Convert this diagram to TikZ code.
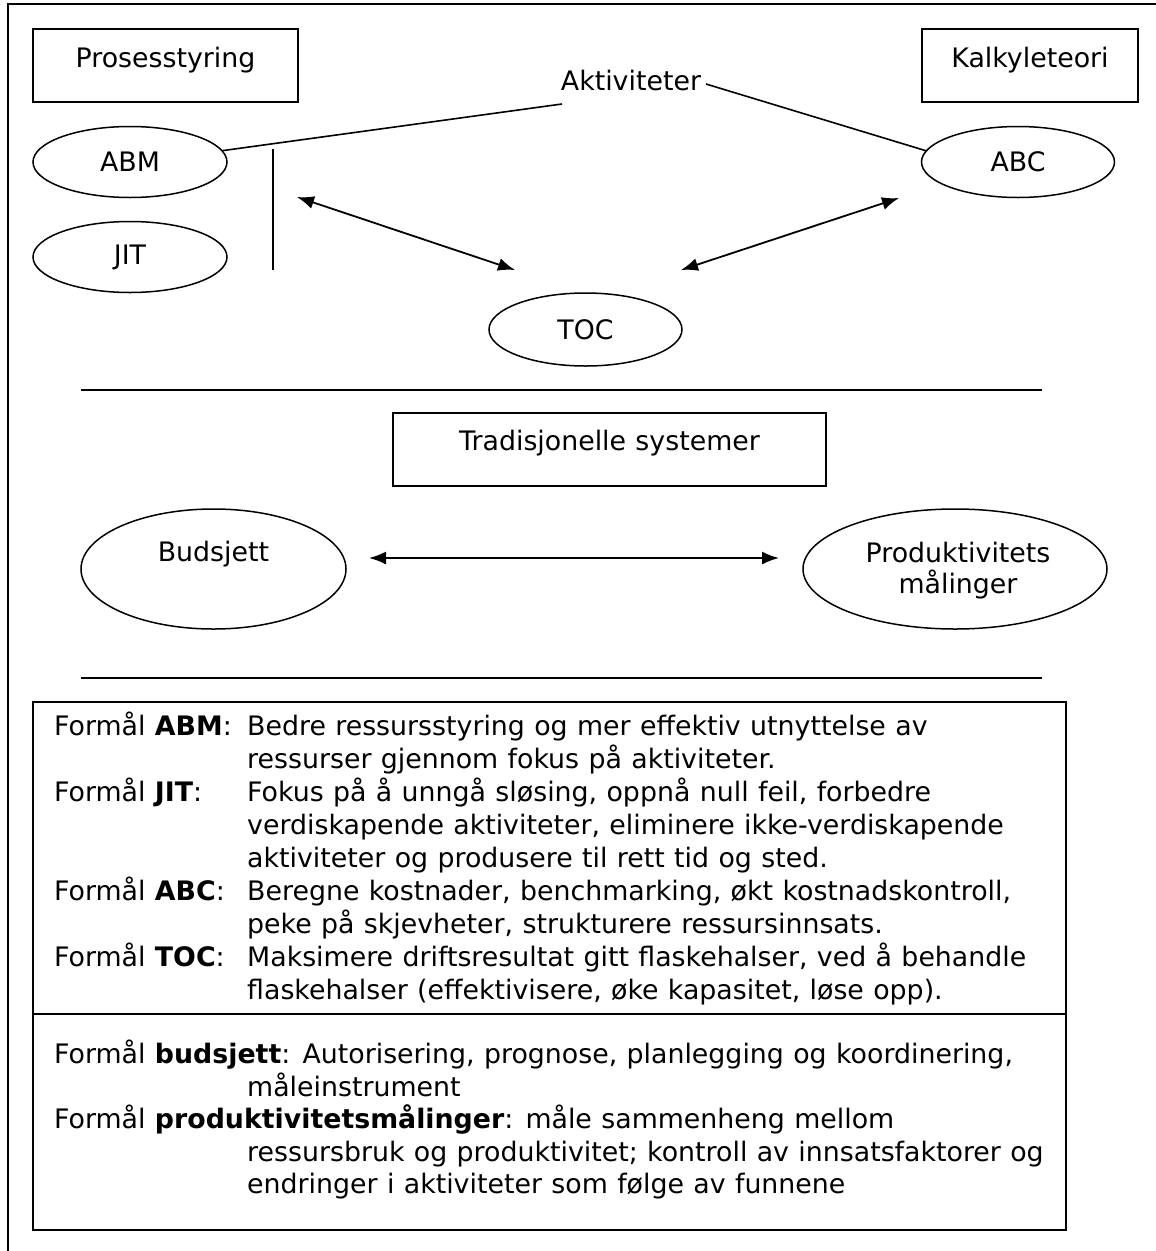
\documentclass[tikz,border=0pt]{standalone}
\usepackage{fontspec}
\setmainfont[WordSpace=1.1]{DejaVu Sans}
\usetikzlibrary{shapes.geometric,arrows.meta}

\begin{document}
\begin{tikzpicture}[x=1pt,y=-1pt,
  every node/.style={font=\fontsize{26.8}{33}\selectfont, inner sep=0pt},
  frame/.style={draw, line width=1.6pt},
  box/.style={draw, line width=1.8pt, rectangle, inner sep=0pt},
  oval/.style={draw, line width=1.5pt, ellipse, inner sep=0pt},
  link/.style={line width=1.6pt},
  twoway/.style={line width=1.8pt,
    {Latex[length=17pt,width=13pt]}-{Latex[length=17pt,width=13pt]}},
  txt/.style={anchor=base west},
  mid/.style={anchor=base},
]
\useasboundingbox (0,0) rectangle (1156,1251);
\fill[white] (0,0) rectangle (1156,1251);

% page frame (open to the right and bottom)
\coordinate (frTR) at (1156,4);
\coordinate (frTL) at (8,4);
\coordinate (frBL) at (8,1251);
\draw[frame] (frTR) -- (frTL) -- (frBL);

% ---------- upper part: process control / cost theory ----------
\node[box, minimum width=265pt, minimum height=73pt] (prosess) at (165.5,65.5) {};
\node[mid] (prosesstxt) at (165.5,67) {Prosesstyring};
\node[box, minimum width=216pt, minimum height=73pt] (kalkyle) at (1030,65.5) {};
\node[mid] (kalkyletxt) at (1030,67) {Kalkyleteori};

\node[mid] (akt) at (631,90) {Aktiviteter};
\coordinate (aktL) at (562,104);
\coordinate (aktR) at (706,84);

\node[oval, minimum width=194pt, minimum height=71pt] (abm) at (130,162) {ABM};
\node[oval, minimum width=194pt, minimum height=71pt] (jit) at (130,257) {JIT};
\node[oval, minimum width=193pt, minimum height=71pt] (abc) at (1018,162) {ABC};
\node[oval, minimum width=193pt, minimum height=73pt] (toc) at (585.5,329.5) {TOC};

\draw[link] (abm.7) -- (aktL);
\draw[link] (aktR) -- (abc.173);

\coordinate (barTop) at (273,149);
\coordinate (barBot) at (273,270);
\draw[link] (barTop) -- (barBot);

\coordinate (lA) at (297,197);
\coordinate (lB) at (515,270);
\coordinate (rA) at (681,270);
\coordinate (rB) at (899,198);
\draw[twoway] (lA) -- (lB);
\draw[twoway] (rA) -- (rB);

% separator
\coordinate (sep1L) at (81,390);
\coordinate (sep1R) at (1042,390);
\draw[link] (sep1L) -- (sep1R);

% ---------- middle part: traditional systems ----------
\node[box, minimum width=433pt, minimum height=73pt] (trad) at (609.5,449.5) {};
\node[mid] (tradtxt) at (609.5,450) {Tradisjonelle systemer};

\node[oval, minimum width=265pt, minimum height=120pt] (bud) at (213.5,569) {};
\node[mid] (budtxt) at (213.5,561) {Budsjett};
\node[oval, minimum width=304pt, minimum height=120pt] (prod) at (955,569) {};
\node[mid] (prodtxt1) at (958,562) {Produktivitets};
\node[mid] (prodtxt2) at (958,593) {målinger};

\coordinate (mA) at (369,558);
\coordinate (mB) at (779,558);
\draw[twoway] (mA) -- (mB);

\coordinate (sep2L) at (81,678);
\coordinate (sep2R) at (1042,678);
\draw[link] (sep2L) -- (sep2R);

% ---------- lower part: purposes ----------
\node[box, minimum width=1033pt, minimum height=528pt] (purpose) at (549.5,966) {};
\coordinate (divL) at (33,1014);
\coordinate (divR) at (1066,1014);
\draw[link] (divL) -- (divR);

\node[txt] (abm1) at (54,735) {Formål \textbf{ABM}:};
\node[txt] (abm1b) at (247,735) {Bedre ressursstyring og mer effektiv utnyttelse av};
\node[txt] (abm2) at (247,768) {ressurser gjennom fokus på aktiviteter.};
\node[txt] (jit1) at (54,801) {Formål \textbf{JIT}:};
\node[txt] (jit1b) at (247,801) {Fokus på å unngå sløsing, oppnå null feil, forbedre};
\node[txt] (jit2) at (247,834) {verdiskapende aktiviteter, eliminere ikke-verdiskapende};
\node[txt] (jit3) at (247,867) {aktiviteter og produsere til rett tid og sted.};
\node[txt] (abc1) at (54,900) {Formål \textbf{ABC}:};
\node[txt] (abc1b) at (247,900) {Beregne kostnader, benchmarking, økt kostnadskontroll,};
\node[txt] (abc2) at (247,933) {peke på skjevheter, strukturere ressursinnsats.};
\node[txt] (toc1) at (54,966) {Formål \textbf{TOC}:};
\node[txt] (toc1b) at (247,966) {Maksimere driftsresultat gitt flaskehalser, ved å behandle};
\node[txt] (toc2) at (247,999) {flaskehalser (effektivisere, øke kapasitet, løse opp).};

\node[txt] (bud1) at (54,1063) {Formål \textbf{budsjett}: Autorisering, prognose, planlegging og koordinering,};
\node[txt] (bud2) at (247,1096) {måleinstrument};
\node[txt] (prod1) at (54,1128) {Formål \textbf{produktivitetsmålinger}: måle sammenheng mellom};
\node[txt] (prod2) at (247,1161) {ressursbruk og produktivitet; kontroll av innsatsfaktorer og};
\node[txt] (prod3) at (247,1193) {endringer i aktiviteter som følge av funnene};
\end{tikzpicture}
\end{document}
